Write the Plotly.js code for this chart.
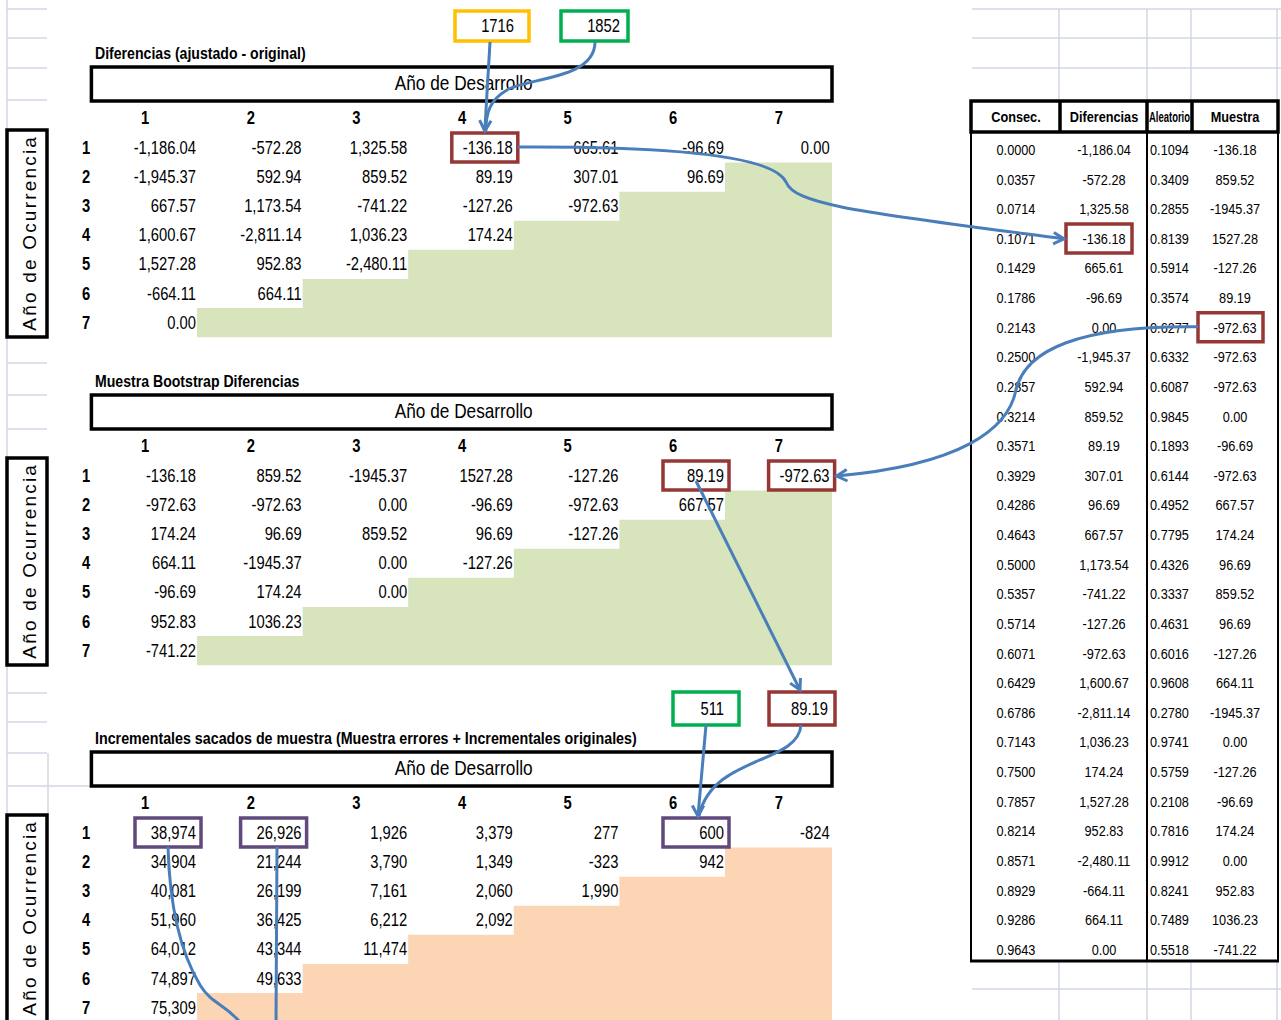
<!DOCTYPE html>
<html><head><meta charset="utf-8">
<script src="https://cdn.plot.ly/plotly-3.0.1.min.js"></script>
<style>html,body{margin:0;padding:0;background:#fff}#chart{width:1281px;height:1020px}
g.annotation text{letter-spacing:2.2px}</style>
</head><body><div id="chart"></div>
<script>
// ================= DATA =================
const devYears = ['1','2','3','4','5','6','7'];
const occYears = ['1','2','3','4','5','6','7'];
const tableTitles = ['Diferencias (ajustado - original)', 'Muestra Bootstrap Diferencias',
  'Incrementales sacados de muestra (Muestra errores + Incrementales originales)'];
const devHeader = 'Año de Desarrollo';
const occHeader = 'Año de Ocurrencia';

const diffRows = [
  ['-1,186.04','-572.28','1,325.58','-136.18','665.61','-96.69','0.00'],
  ['-1,945.37','592.94','859.52','89.19','307.01','96.69'],
  ['667.57','1,173.54','-741.22','-127.26','-972.63'],
  ['1,600.67','-2,811.14','1,036.23','174.24'],
  ['1,527.28','952.83','-2,480.11'],
  ['-664.11','664.11'],
  ['0.00']
];
const sampleRows = [
  ['-136.18','859.52','-1945.37','1527.28','-127.26','89.19','-972.63'],
  ['-972.63','-972.63','0.00','-96.69','-972.63','667.57'],
  ['174.24','96.69','859.52','96.69','-127.26'],
  ['664.11','-1945.37','0.00','-127.26'],
  ['-96.69','174.24','0.00'],
  ['952.83','1036.23'],
  ['-741.22']
];
const incRows = [
  ['38,974','26,926','1,926','3,379','277','600','-824'],
  ['34,904','21,244','3,790','1,349','-323','942'],
  ['40,081','26,199','7,161','2,060','1,990'],
  ['51,960','36,425','6,212','2,092'],
  ['64,012','43,344','11,474'],
  ['74,897','49,633'],
  ['75,309']
];

const listHeaders = ['Consec.','Diferencias','Aleatorio','Muestra'];
const consec = ['0.0000','0.0357','0.0714','0.1071','0.1429','0.1786','0.2143','0.2500','0.2857','0.3214',
  '0.3571','0.3929','0.4286','0.4643','0.5000','0.5357','0.5714','0.6071','0.6429','0.6786',
  '0.7143','0.7500','0.7857','0.8214','0.8571','0.8929','0.9286','0.9643'];
const diferencias = ['-1,186.04','-572.28','1,325.58','-136.18','665.61','-96.69','0.00','-1,945.37','592.94','859.52',
  '89.19','307.01','96.69','667.57','1,173.54','-741.22','-127.26','-972.63','1,600.67','-2,811.14',
  '1,036.23','174.24','1,527.28','952.83','-2,480.11','-664.11','664.11','0.00'];
const aleatorio = ['0.1094','0.3409','0.2855','0.8139','0.5914','0.3574','0.6277','0.6332','0.6087','0.9845',
  '0.1893','0.6144','0.4952','0.7795','0.4326','0.3337','0.4631','0.6016','0.9608','0.2780',
  '0.9741','0.5759','0.2108','0.7816','0.9912','0.8241','0.7489','0.5518'];
const muestra = ['-136.18','859.52','-1945.37','1527.28','-127.26','89.19','-972.63','-972.63','-972.63','0.00',
  '-96.69','-972.63','667.57','174.24','96.69','859.52','96.69','-127.26','664.11','-1945.37',
  '0.00','-127.26','-96.69','174.24','0.00','952.83','1036.23','-741.22'];

const calloutTop = ['1716','1852'];
const calloutMid = ['511','89.19'];

// ================= LAYOUT CONSTANTS =================
const W = 1281, H = 1020;
const FONT = "'Liberation Sans Narrow','Arial Narrow','Liberation Sans',Arimo,sans-serif";
const SIDEFONT = "'Liberation Sans',Arimo,sans-serif";
const CONDENSE = 0.82;   // make the sans face look like a narrow face
const BLUE = '#4a7ebb', RED = '#953735', PURPLE = '#604a7b', YEL = '#ffc000', GRN = '#00b050';
const GRID = '#d0d7e5';
const COL0 = 91.4, COLW = 105.6, RIGHT = 832;
const cR = c => COL0 + (c + 1) * COLW;          // right edge of column c (0-based)
const tops = [67, 395, 752];
const RH = 29.1;
const TDY = 1.5;                                 // text baseline nudge
const rowY = (t, r) => tops[t] + 81 + r * RH;
const LX = 971, LRt = 1278, LHT = 101, LHB = 132, LBOT = 961;
const listCols = [1016, 1104, 1169.5, 1235];
const NARROWCOL = 41;                            // width available in the 3rd list column
const LROW0 = 150, LRH = 29.63;
const listY = i => LROW0 + i * LRH;

const traces = [];
const shapes = [];
const annotations = [];

function line(x0, y0, x1, y1, color, width, layer) {
  shapes.push({type: 'line', xref: 'x', yref: 'y', x0, y0, x1, y1, layer: layer || 'below',
    line: {color, width}});
}
function rect(x0, y0, x1, y1, color, width, fill, layer) {
  shapes.push({type: 'rect', xref: 'x', yref: 'y', x0, y0, x1, y1, layer: layer || 'below',
    fillcolor: fill || 'rgba(0,0,0,0)', line: {color: color || 'rgba(0,0,0,0)', width: width || 0}});
}
function path(d, color, width, fill, layer) {
  shapes.push({type: 'path', xref: 'x', yref: 'y', path: d, layer: layer || 'above',
    fillcolor: fill || 'rgba(0,0,0,0)', line: {color: color || 'rgba(0,0,0,0)', width: width || 0}});
}
function arrowHead(tx, ty, fx, fy) {
  const a = Math.atan2(ty - fy, tx - fx), L = 12, s = 0.5;
  const p1 = [tx - L * Math.cos(a - s), ty - L * Math.sin(a - s)];
  const p2 = [tx - L * Math.cos(a + s), ty - L * Math.sin(a + s)];
  path(`M ${p1[0]} ${p1[1]} L ${tx} ${ty} L ${p2[0]} ${p2[1]}`, BLUE, 3);
}
function txt(xs, ys, texts, size, pos, bold) {
  traces.push({type: 'scatter', mode: 'text', cliponaxis: false, hoverinfo: 'skip',
    x: xs, y: ys, text: bold ? texts.map(s => '<b>' + s + '</b>') : texts, textposition: pos,
    textfont: {family: FONT, size, color: '#000'}});
}

// ---------- background sheet gridlines ----------
line(7, 0, 7, H, GRID, 1.5);
[9, 38, 68, 100, 363, 395, 429, 693, 722, 753, 786].forEach(y => line(7, y, 47, y, GRID, 1.5));
line(47, 786, 91, 786, GRID, 1.5);
line(48, 753, 48, 815, GRID, 1.5);
[9, 38, 68].forEach(y => line(972, y, W, y, GRID, 1.5));
[1059, 1147, 1191, 1277].forEach(x => line(x, 9, x, LHT, GRID, 1.5));
line(972, 989, W, 989, GRID, 1.5);
[1059, 1147, 1191, 1277].forEach(x => line(x, LBOT, x, H, GRID, 1.5));

// ---------- the three triangles ----------
const triData = [diffRows, sampleRows, incRows];
const fills = ['#d8e4bc', '#d8e4bc', '#fcd5b4'];
triData.forEach((rows, t) => {
  const top = r => rowY(t, r) - RH / 2;
  const bottom = t === 2 ? H + 2 : rowY(t, 6) + RH / 2;
  const pts = [[RIGHT, top(1)], [RIGHT, bottom], [cR(0), bottom]];
  for (let r = 6; r >= 1; r--) {
    pts.push([cR(6 - r), top(r)]);
    if (r > 1) pts.push([cR(7 - r), top(r)]);
  }
  path('M ' + pts.map(p => p.join(' ')).join(' L ') + ' Z', null, 0, fills[t], 'below');

  txt([95], [tops[t] - 12], [tableTitles[t]], t === 2 ? 17.4 : 17.2, 'middle right', true);
  rect(COL0, tops[t], RIGHT, tops[t] + 34, '#000', 3.5);
  txt([(COL0 + RIGHT) / 2 + 2], [tops[t] + 18], [devHeader], 21, 'middle center', false);
  rect(7, tops[t] + 63, 47, Math.min(tops[t] + 270, H + 5), '#000', 3.5);
  annotations.push({xref: 'x', yref: 'y', x: 29, y: tops[t] + 166, text: occHeader, showarrow: false,
    textangle: -90, font: {family: SIDEFONT, size: 19, color: '#000'}});

  txt(devYears.map((d, c) => cR(c) - COLW / 2 + 1), devYears.map(() => tops[t] + 51 + TDY), devYears, 18, 'middle center', true);
  txt(occYears.map(() => 86), occYears.map((d, r) => rowY(t, r) + TDY), occYears, 18, 'middle center', true);
  const xs = [], ys = [], tx = [];
  rows.forEach((row, r) => row.forEach((v, c) => { xs.push(cR(c) - 1); ys.push(rowY(t, r) + TDY); tx.push(v); }));
  txt(xs, ys, tx, 18, 'middle left', false);
});

// ---------- right-hand list ----------
[consec, diferencias, aleatorio, muestra].forEach((col, k) => {
  txt(col.map(() => listCols[k]), col.map((v, i) => listY(i) + 1), col, 15.5, 'middle center', false);
});
txt(listCols, listCols.map(() => (LHT + LHB) / 2 + 2), listHeaders, 15.5, 'middle center', true);
rect(LX, LHT, LRt, LHB, '#000', 3.5, null, 'above');
[1060, 1147, 1192].forEach(x => line(x, LHT, x, LHB, '#000', 3.5, 'above'));
line(LX, LHB, LX, LBOT, '#000', 2, 'above');
line(LRt, LHB, LRt, LBOT, '#000', 2, 'above');
line(1147, LHB, 1147, LBOT, '#000', 2, 'above');
line(LX - 1, LBOT, LRt + 1, LBOT, '#000', 3, 'above');

// ---------- callouts ----------
const boxAt = (t, r, c) => [cR(c) - 62, rowY(t, r) - 15, cR(c) + 4, rowY(t, r) + 14];
function box(b, color) { rect(b[0], b[1], b[2], b[3], color, 3.5, null, 'above'); }

const yBox = [455, 11, 529, 41], gBox = [561, 11, 628, 41];
const b511 = [673, 692, 739, 725], b89 = [769, 692, 835, 725];
box(yBox, YEL); box(gBox, GRN); box(b511, GRN); box(b89, RED);
txt([yBox[2] - 15, gBox[2] - 8], [27, 27], calloutTop, 18, 'middle left', false);
txt([b511[2] - 15, b89[2] - 7], [710, 710], calloutMid, 18, 'middle left', false);

const t1 = boxAt(0, 0, 3); box(t1, RED);
const s6 = boxAt(1, 0, 5); box(s6, RED);
const s7 = boxAt(1, 0, 6); box(s7, RED);
const p1 = boxAt(2, 0, 0); box(p1, PURPLE);
const p2 = boxAt(2, 0, 1); box(p2, PURPLE);
const p6 = boxAt(2, 0, 5); box(p6, PURPLE);
const lDif = [1066, listY(3) - 15, 1132, listY(3) + 14]; box(lDif, RED);
const lMue = [1198, listY(6) - 15, 1263, listY(6) + 14]; box(lMue, RED);

// connectors
const tipT1 = [(t1[0] + t1[2]) / 2, t1[1] - 2];
path(`M 490 ${yBox[3] + 1} L ${tipT1[0]} ${tipT1[1]}`, BLUE, 3);
path(`M 595 ${gBox[3] + 1} C 595 80, 525 78, 507 90 C 490 100, 486 112, ${tipT1[0] + 1} ${tipT1[1]}`, BLUE, 3);
arrowHead(tipT1[0], tipT1[1], tipT1[0] + 1, tipT1[1] - 20);

path(`M ${t1[2]} 147 C 690 146, 775 158, 786 182 C 795 205, 860 212, ${lDif[0] - 2} ${listY(3)}`, BLUE, 3);
arrowHead(lDif[0] - 2, listY(3), lDif[0] - 30, listY(3) - 2);

path(`M ${lMue[0]} ${listY(6) - 1} C 1080 325, 1025 350, 1016 390 C 1008 430, 960 465, ${s7[2] + 2} 476`, BLUE, 3);
arrowHead(s7[2] + 2, 476, s7[2] + 30, 474);

path(`M 696 481 L 800 ${b89[1] - 2}`, BLUE, 3);
arrowHead(800, b89[1] - 2, 696, 481);

const tipP6 = [(p6[0] + p6[2]) / 2 + 2, p6[1] - 2];
path(`M 706 ${b511[3]} L ${tipP6[0]} ${tipP6[1]}`, BLUE, 3);
path(`M 801 ${b89[3]} C 798 765, 712 755, ${tipP6[0] + 1} ${tipP6[1]}`, BLUE, 3);
arrowHead(tipP6[0], tipP6[1], tipP6[0], tipP6[1] - 20);

path(`M 168 ${p1[3]} C 170 920, 185 960, 200 985 C 212 1005, 228 1005, 242 1025`, BLUE, 3);
path(`M 277 ${p2[3]} L 276 1025`, BLUE, 3);

const layout = {
  width: W, height: H, margin: {l: 0, r: 0, t: 0, b: 0, pad: 0},
  paper_bgcolor: '#fff', plot_bgcolor: '#fff', showlegend: false,
  xaxis: {range: [0, W], visible: false, fixedrange: true},
  yaxis: {range: [H, 0], visible: false, fixedrange: true},
  shapes, annotations
};

function condense(gd) {
  gd.querySelectorAll('.textpoint text').forEach(t => {
    const L = t.getComputedTextLength();
    if (L > 0) {
      let target = L * CONDENSE;
      if (t.textContent === listHeaders[2]) target = Math.min(target, NARROWCOL);
      t.setAttribute('textLength', target.toFixed(2));
      t.setAttribute('lengthAdjust', 'spacingAndGlyphs');
    }
  });
}
Plotly.newPlot('chart', traces, layout, {staticPlot: true, displayModeBar: false}).then(condense);
</script></body></html>
